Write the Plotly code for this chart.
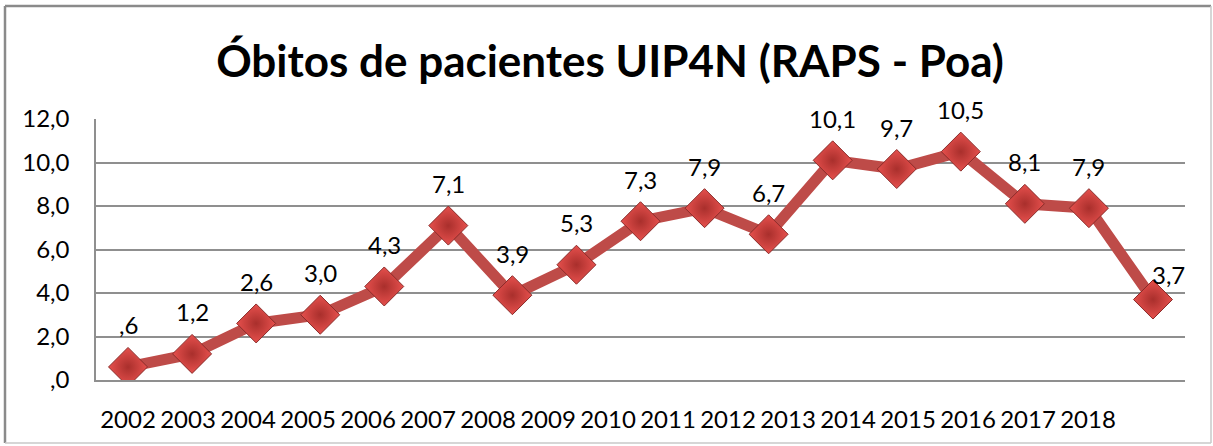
import plotly.graph_objects as go

# ---- data ----
years = ["2002", "2003", "2004", "2005", "2006", "2007", "2008", "2009", "2010",
         "2011", "2012", "2013", "2014", "2015", "2016", "2017", "2018"]
deaths = [0.6, 1.2, 2.6, 3.0, 4.3, 7.1, 3.9, 5.3, 7.3, 7.9, 6.7, 10.1, 9.7, 10.5, 8.1, 7.9, 3.7]
value_labels = [",6", "1,2", "2,6", "3,0", "4,3", "7,1", "3,9", "5,3", "7,3",
                "7,9", "6,7", "10,1", "9,7", "10,5", "8,1", "7,9", "3,7"]
y_tick_values = [0, 2, 4, 6, 8, 10, 12]
y_tick_labels = [",0", "2,0", "4,0", "6,0", "8,0", "10,0", "12,0"]
title_text = "Óbitos de pacientes UIP4N (RAPS - Poa)"

# ---- style ----
FONT = "Lato"
W, H = 1213, 446
L, R, T, B = 96, 28, 119, 66
label_step = 60 / 64.06  # x-label spacing relative to point spacing (as in reference)

idx = list(range(len(years)))

fig = go.Figure()
fig.add_trace(go.Scatter(
    x=idx, y=deaths, mode="lines+markers",
    line=dict(color="#BE4B48", width=11),
    marker=dict(symbol="diamond", size=30, color="#E6504D",
                gradient=dict(type="radial", color="#A92F2C"),
                line=dict(color="#8A2B29", width=1)),
    hoverinfo="skip", showlegend=False,
))

annotations = []
for i, (v, t) in enumerate(zip(deaths, value_labels)):
    last = i == len(deaths) - 1
    annotations.append(dict(
        x=i, y=v, xref="x", yref="y", text=t, showarrow=False,
        xanchor="center", yanchor="middle",
        xshift=16 if last else 0, yshift=25 if last else 42,
        font=dict(family=FONT, size=24, color="#000000"),
    ))

fig.update_layout(
    width=W, height=H,
    margin=dict(l=L, r=R, t=T, b=B),
    paper_bgcolor="white", plot_bgcolor="white",
    title=dict(text=title_text, x=610 / W, xref="container", xanchor="center",
               y=1 - 62 / H, yref="container", yanchor="middle",
               font=dict(family=FONT, size=44, color="#000000", weight="bold")),
    annotations=annotations,
    xaxis=dict(
        range=[-0.5, len(years) - 0.5],
        tickvals=[j * label_step for j in idx], ticktext=years,
        showgrid=False, zeroline=False, ticks="", ticklabelstandoff=17,
        showline=True, linecolor="#8f8f8f", linewidth=1.5,
        tickfont=dict(family=FONT, size=24, color="#000000"),
    ),
    yaxis=dict(
        range=[0, 12], tickvals=y_tick_values, ticktext=y_tick_labels,
        showgrid=True, gridcolor="#8f8f8f", gridwidth=1.5, zeroline=False,
        ticks="", ticklabelstandoff=20,
        showline=True, linecolor="#8f8f8f", linewidth=1.5,
        tickfont=dict(family=FONT, size=24, color="#000000"),
    ),
)

# chart outer border
pw, ph = W - L - R, H - T - B
def px_x(p): return (p - L) / pw
def px_y(p): return (H - B - p) / ph
x0, x1, y0, y1 = px_x(5), px_x(1211), px_y(443), px_y(6)
for (ax0, ay0, ax1, ay1, col, w) in [
    (x0, y1, x1, y1, "#8a8a8a", 2.5),
    (x0, y0, x0, y1, "#8a8a8a", 2.5),
    (x1, y0, x1, y1, "#c8c8c8", 1.5),
    (x0, y0, x1, y0, "#c8c8c8", 1.5),
]:
    fig.add_shape(type="line", xref="paper", yref="paper",
                  x0=ax0, y0=ay0, x1=ax1, y1=ay1,
                  line=dict(color=col, width=w), layer="above")

fig.write_html("out.html", config={"displayModeBar": False},
               post_script="document.body.style.margin='0';document.body.style.overflow='hidden';")
